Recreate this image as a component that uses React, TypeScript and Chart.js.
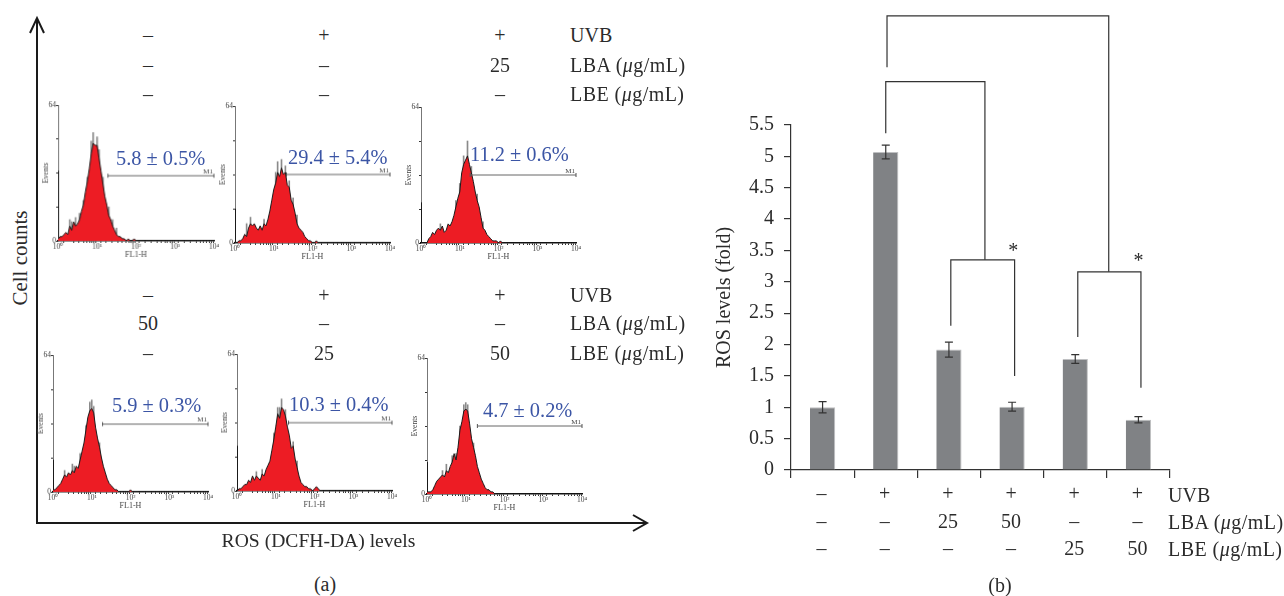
import React, { useEffect, useRef } from "react";
import { Chart, registerables } from "chart.js";

Chart.register(...registerables);

const SERIF = "'Liberation Serif', 'Times New Roman', serif";
const INK = "#2b2b2b";

// ---- panel (b) data ----
const barCategories = ["ctrl", "uvb", "lba25", "lba50", "lbe25", "lbe50"];
const rosLevels = [1.0, 5.07, 1.92, 1.01, 1.77, 0.8];
const rosErrors = [0.09, 0.11, 0.12, 0.07, 0.07, 0.05];
const rowUVB = ["–", "+", "+", "+", "+", "+"];
const rowLBA = ["–", "–", "25", "50", "–", "–"];
const rowLBE = ["–", "–", "–", "–", "25", "50"];
const rosTicks = ["0", "0.5", "1", "1.5", "2", "2.5", "3", "3.5", "4", "4.5", "5", "5.5"];
// bracket: [x from, x to, y of bar, y left foot, y right foot] in axis units
const brackets = [
  [1.02, 4.53, 7.24, 6.42, 3.16],
  [1.0, 2.57, 6.19, 5.37, 3.35],
  [2.03, 3.04, 3.35, 2.3, 1.5],
  [4.04, 5.04, 3.16, 2.12, 1.31],
];
const stars = [
  [3.02, 3.53],
  [5.0, 3.36],
];

// ---- panel (a) data ----
const channelDecades = [
  0, 0.01, 0.05, 0.1, 0.15, 0.2, 0.25, 0.3, 0.35, 0.4, 0.45, 0.5, 0.55, 0.6, 0.65, 0.7, 0.75, 0.8,
  0.85, 0.9, 0.95, 1.0, 1.05, 1.1, 1.15, 1.2, 1.25, 1.3, 1.35, 1.4, 1.45, 1.5, 1.55, 1.6, 1.65, 1.7,
  1.75, 1.8, 1.85, 1.9, 1.95, 2.0, 2.05, 2.1, 2.15, 2.2,
];
const histControl = [33, 1, 2, 2, 3, 4, 3, 7, 5, 9, 7, 8, 10, 14, 17, 23, 28, 34, 41, 46, 45, 45, 39, 33, 27, 21, 17, 12, 10, 7, 5, 3, 2, 2, 1, 1, 0, 1, 0, 0, 1, 0, 0, 0, 0, 0];
const histUVB = [16, 0, 0, 1, 1, 2, 4, 3, 7, 9, 8, 9, 7, 6, 8, 6, 9, 8, 11, 15, 20, 25, 28, 33, 31, 35, 32, 33, 27, 26, 20, 18, 14, 9, 7, 6, 5, 3, 2, 1, 1, 0, 0, 1, 0, 0];
const histLBA25 = [19, 0, 0, 0, 0, 2, 3, 5, 4, 6, 7, 6, 8, 5, 6, 9, 8, 10, 13, 17, 21, 24, 33, 37, 39, 41, 37, 33, 29, 24, 20, 17, 12, 7, 6, 4, 3, 2, 1, 1, 1, 0, 1, 0, 0, 0];
const histLBA50 = [15, 1, 1, 2, 3, 4, 6, 8, 7, 9, 8, 10, 9, 12, 11, 15, 19, 23, 29, 35, 38, 39, 37, 30, 25, 21, 16, 12, 9, 6, 4, 3, 2, 1, 1, 0, 0, 0, 0, 0, 0, 1, 0, 0, 0, 0];
const histLBE25 = [21, 0, 1, 1, 2, 3, 3, 5, 4, 7, 5, 7, 6, 5, 8, 7, 10, 12, 14, 19, 24, 30, 36, 34, 39, 38, 35, 30, 26, 20, 21, 15, 11, 7, 4, 3, 2, 2, 1, 1, 0, 1, 2, 1, 0, 0];
const histLBE50 = [15, 1, 1, 1, 2, 4, 6, 7, 8, 9, 8, 11, 10, 13, 15, 19, 16, 22, 30, 34, 39, 40, 39, 33, 26, 22, 18, 13, 10, 7, 5, 3, 2, 2, 1, 1, 0, 0, 0, 0, 0, 0, 0, 0, 0, 0];
// thin grey noise above the curve: [decade, count]
const spikesControl = [[0.3, 10], [0.35, 9], [0.45, 11], [0.55, 13], [0.65, 19], [0.75, 30], [0.85, 47], [0.9, 51], [1.0, 49], [1.05, 43], [1.15, 30], [1.3, 16], [1.4, 10], [1.5, 6]];
const spikesUVB = [[0.3, 9], [0.4, 12], [0.75, 11], [1.05, 33], [1.1, 38], [1.2, 39], [1.3, 36], [1.4, 29], [1.5, 21], [1.6, 13]];
const spikesLBA25 = [[0.5, 9], [0.9, 20], [1.0, 28], [1.1, 41], [1.2, 48], [1.3, 36], [1.45, 23], [1.6, 10]];
const spikesLBA50 = [[0.3, 10], [0.5, 13], [0.55, 12], [0.7, 18], [0.85, 31], [0.95, 42], [1.0, 43], [1.05, 40], [1.2, 23]];
const spikesLBE25 = [[0.5, 9], [0.65, 10], [0.95, 27], [1.05, 39], [1.1, 39], [1.15, 43], [1.25, 38], [1.45, 23], [1.55, 14]];
const spikesLBE50 = [[0.4, 11], [0.5, 14], [0.65, 18], [0.75, 19], [0.85, 32], [0.95, 42], [1.0, 43], [1.05, 42], [1.2, 24]];
const gateStarts = [1.28, 1.33, 1.27, 1.28, 1.33, 1.3];
const gateCounts = [30.7, 32, 32, 31.7, 31.9, 32];
const percentLabels = ["5.8 ± 0.5%", "29.4 ± 5.4%", "11.2 ± 0.6%", "5.9 ± 0.3%", "10.3 ± 0.4%", "4.7 ± 0.2%"];
const histograms = [histControl, histUVB, histLBA25, histLBA50, histLBE25, histLBE50];
const spikeSets = [spikesControl, spikesUVB, spikesLBA25, spikesLBA50, spikesLBE25, spikesLBE50];
const eventTicks = [0, 16, 32, 48, 64];
const decadeLabels = ["10⁰", "10¹", "10²", "10³", "10⁴"];
const topRows = [
  ["–", "+", "+", "UVB"],
  ["–", "–", "25", "LBA"],
  ["–", "–", "–", "LBE"],
];
const bottomRows = [
  ["–", "+", "+", "UVB"],
  ["50", "–", "–", "LBA"],
  ["–", "25", "50", "LBE"],
];

// ---- layout (pixels on the page) ----
const histAreas = [
  { l: 58.3, r: 214, t: 105, b: 240.7 },
  { l: 235, r: 390, t: 106, b: 242.7 },
  { l: 420.7, r: 576, t: 107, b: 243 },
  { l: 52.7, r: 207.7, t: 355, b: 491.7 },
  { l: 236.7, r: 392, t: 354, b: 490.7 },
  { l: 427, r: 582.3, t: 358, b: 494.3 },
];
const percentPos = [
  { x: 116, y: 158 },
  { x: 288, y: 157 },
  { x: 470, y: 154 },
  { x: 112, y: 405 },
  { x: 289, y: 404 },
  { x: 483, y: 410 },
];
const columnX = [148, 324, 500];
const topRowY = [35, 65, 94];
const bottomRowY = [295, 323, 353];

function Txt({ x, y, center, size = 20, color = INK, rotate, spacing, children }: any) {
  const tx = center ? "-50%" : "0";
  return (
    <span
      style={{
        position: "absolute",
        left: x,
        top: y,
        fontFamily: SERIF,
        fontSize: size,
        color,
        lineHeight: 1,
        letterSpacing: spacing || 0,
        whiteSpace: "nowrap",
        transform: rotate ? `translate(-50%,-50%) rotate(${rotate}deg)` : `translate(${tx},-50%)`,
      }}
    >
      {children}
    </span>
  );
}

function RowName({ x, y, name }: any) {
  if (name === "UVB") return <Txt x={x} y={y}>UVB</Txt>;
  return (
    <Txt x={x} y={y} spacing={0.45}>
      {name} (<i>μ</i>g/mL)
    </Txt>
  );
}

const gatePlugin = {
  id: "gate",
  afterDatasetsDraw(chart: any) {
    const pts = chart.getDatasetMeta(1).data;
    const ctx = chart.ctx;
    ctx.save();
    ctx.strokeStyle = "#555";
    ctx.lineWidth = 1;
    pts.forEach((p: any) => {
      ctx.beginPath();
      ctx.moveTo(p.x, p.y - 2);
      ctx.lineTo(p.x, p.y + 2);
      ctx.stroke();
    });
    const end = pts[pts.length - 1];
    ctx.fillStyle = "#444";
    ctx.font = `7px ${SERIF}`;
    ctx.textAlign = "right";
    ctx.textBaseline = "bottom";
    ctx.fillText("M1", end.x - 1, end.y - 0.5);
    ctx.restore();
  },
};

function Histogram({ index }: { index: number }) {
  const ref = useRef<HTMLCanvasElement>(null);
  const a = histAreas[index];
  const width = a.r - a.l + 20 + 14;
  const height = a.b - a.t + 8 + 22;
  useEffect(() => {
    const counts = histograms[index];
    const chart = new Chart(ref.current as any, {
      type: "line",
      data: {
        datasets: [
          {
            data: channelDecades.map((d, i) => ({ x: Math.pow(10, d), y: counts[i] })),
            borderColor: "#1a1a1a",
            borderWidth: 1,
            backgroundColor: "#ed1c24",
            fill: "origin",
            pointRadius: 0,
            tension: 0,
            order: 1,
          },
          {
            data: [
              { x: Math.pow(10, gateStarts[index]), y: gateCounts[index] },
              { x: 10000, y: gateCounts[index] },
            ],
            borderColor: "#666",
            borderWidth: 1,
            pointRadius: 0,
            fill: false,
            order: 0,
          },
          {
            type: "bar",
            data: spikeSets[index].map(([d, c]) => ({ x: Math.pow(10, d), y: c })),
            backgroundColor: "#8a8a8a",
            barThickness: 1,
            order: 2,
          },
        ],
      } as any,
      plugins: [gatePlugin],
      options: {
        animation: false,
        responsive: false,
        devicePixelRatio: 1,
        layout: { autoPadding: false, padding: { left: 2, right: 14, top: 8, bottom: 3 } },
        plugins: { legend: { display: false }, tooltip: { enabled: false } },
        scales: {
          x: {
            type: "logarithmic",
            min: 1,
            max: 10000,
            offset: false,
            afterFit(s: any) {
              s.height = 19;
            },
            border: { display: true, color: "#111", width: 1.5 },
            grid: { drawOnChartArea: false, tickLength: 2, color: "#333" },
            ticks: {
              autoSkip: false,
              maxRotation: 0,
              padding: 0,
              color: "#444",
              font: { family: SERIF, size: 7.5 },
              callback(v: any) {
                const log = Math.log10(Number(v));
                return Number.isInteger(log) ? decadeLabels[log] : "";
              },
            },
            title: { display: true, text: "FL1-H", color: "#444", padding: 0, font: { family: SERIF, size: 8 } },
          },
          y: {
            min: 0,
            max: 64,
            afterFit(s: any) {
              s.width = 18;
            },
            afterBuildTicks(s: any) {
              s.ticks = eventTicks.map((value) => ({ value }));
            },
            border: { display: true, color: "#777", width: 1 },
            grid: { drawOnChartArea: false, tickLength: 2, color: "#333" },
            ticks: {
              autoSkip: false,
              padding: 0,
              color: "#444",
              font: { family: SERIF, size: 7.5 },
              callback(v: any) {
                return v === 0 || v === 64 ? String(v) : "";
              },
            },
            title: { display: true, text: "Events", color: "#444", padding: { top: 2, bottom: 0 }, font: { family: SERIF, size: 7.5 } },
          },
        },
      } as any,
    });
    return () => chart.destroy();
  }, [index]);
  return (
    <canvas
      ref={ref}
      width={width}
      height={height}
      style={{ position: "absolute", left: a.l - 20, top: a.t - 8, width, height }}
    />
  );
}

const annotationPlugin = {
  id: "annotations",
  afterDatasetsDraw(chart: any) {
    const { ctx, scales } = chart;
    const { x, y } = scales;
    ctx.save();
    ctx.strokeStyle = "#333";
    ctx.lineWidth = 1.2;
    chart.getDatasetMeta(0).data.forEach((bar: any, i: number) => {
      const hi = y.getPixelForValue(rosLevels[i] + rosErrors[i]);
      const lo = y.getPixelForValue(rosLevels[i] - rosErrors[i]);
      ctx.beginPath();
      ctx.moveTo(bar.x, hi);
      ctx.lineTo(bar.x, lo);
      ctx.moveTo(bar.x - 4, hi);
      ctx.lineTo(bar.x + 4, hi);
      ctx.moveTo(bar.x - 4, lo);
      ctx.lineTo(bar.x + 4, lo);
      ctx.stroke();
    });
    brackets.forEach(([a, b, top, footA, footB]) => {
      ctx.beginPath();
      ctx.moveTo(x.getPixelForValue(a), y.getPixelForValue(footA));
      ctx.lineTo(x.getPixelForValue(a), y.getPixelForValue(top));
      ctx.lineTo(x.getPixelForValue(b), y.getPixelForValue(top));
      ctx.lineTo(x.getPixelForValue(b), y.getPixelForValue(footB));
      ctx.stroke();
    });
    ctx.fillStyle = INK;
    ctx.font = `20px ${SERIF}`;
    ctx.textAlign = "center";
    ctx.textBaseline = "middle";
    stars.forEach(([sx, sy]) => {
      ctx.fillText("*", x.getPixelForValue(sx), y.getPixelForValue(sy) + 3);
    });
    ctx.restore();
  },
};

function BarPanel() {
  const ref = useRef<HTMLCanvasElement>(null);
  useEffect(() => {
    const chart = new Chart(ref.current as any, {
      type: "bar",
      data: {
        labels: barCategories,
        datasets: [
          {
            data: rosLevels,
            backgroundColor: "#808285",
            borderColor: "#bfc0c2",
            borderWidth: { top: 1, right: 1, left: 0, bottom: 0 },
            barPercentage: 0.4,
            categoryPercentage: 1,
          },
        ],
      } as any,
      plugins: [annotationPlugin],
      options: {
        animation: false,
        responsive: false,
        devicePixelRatio: 1,
        layout: { autoPadding: false, padding: { left: 0, right: 114, top: 125, bottom: 0 } },
        plugins: { legend: { display: false }, tooltip: { enabled: false } },
        scales: {
          x: {
            afterFit(s: any) {
              s.height = 126;
            },
            border: { display: true, color: "#333", width: 1.2 },
            grid: { drawOnChartArea: false, offset: true, tickLength: 8, color: "#333", lineWidth: 1.2 },
            ticks: {
              autoSkip: false,
              maxRotation: 0,
              padding: 3,
              labelOffset: -1,
              color: INK,
              font: { family: SERIF, size: 20, lineHeight: 1.375 },
              callback(_v: any, i: number) {
                return [rowUVB[i], rowLBA[i], rowLBE[i]];
              },
            },
          },
          y: {
            min: 0,
            max: 5.5,
            afterFit(s: any) {
              s.width = 91;
            },
            border: { display: true, color: "#333", width: 1.2 },
            grid: { drawOnChartArea: false, tickLength: 7, color: "#333", lineWidth: 1.2 },
            ticks: {
              stepSize: 0.5,
              autoSkip: false,
              padding: 10,
              color: INK,
              font: { family: SERIF, size: 20 },
              callback(_v: any, i: number) {
                return rosTicks[i];
              },
            },
            title: {
              display: true,
              text: "ROS levels (fold)",
              color: INK,
              padding: { top: 13, bottom: 0 },
              font: { family: SERIF, size: 20 },
            },
          },
        },
      } as any,
    });
    return () => chart.destroy();
  }, []);
  return (
    <canvas
      ref={ref}
      width={584}
      height={596}
      style={{ position: "absolute", left: 700, top: 0, width: 584, height: 596 }}
    />
  );
}

export default function App() {
  return (
    <div style={{ position: "absolute", left: 0, top: 0, width: 1284, height: 596, background: "#fff", overflow: "hidden" }}>
      <svg width={1284} height={596} style={{ position: "absolute", left: 0, top: 0 }}>
        <g fill="none" stroke="#1a1a1a" strokeWidth={2}>
          <path d="M37 19 L37 523 L646 523" />
          <path d="M30 33 L37 18 L44 33" />
          <path d="M633 515 L647 523 L633 531" />
        </g>
      </svg>
      {histAreas.map((_a, i) => (
        <Histogram key={i} index={i} />
      ))}
      <BarPanel />
      {percentLabels.map((t, i) => (
        <Txt key={t} x={percentPos[i].x} y={percentPos[i].y} size={20.4} color="#3b55a5">
          {t}
        </Txt>
      ))}
      {topRows.map((row, r) =>
        row.map((cell, c) =>
          c < 3 ? (
            <Txt key={`t${r}${c}`} x={columnX[c]} y={topRowY[r]} center>
              {cell}
            </Txt>
          ) : (
            <RowName key={`t${r}${c}`} x={570} y={topRowY[r]} name={cell} />
          )
        )
      )}
      {bottomRows.map((row, r) =>
        row.map((cell, c) =>
          c < 3 ? (
            <Txt key={`b${r}${c}`} x={columnX[c]} y={bottomRowY[r]} center>
              {cell}
            </Txt>
          ) : (
            <RowName key={`b${r}${c}`} x={570} y={bottomRowY[r]} name={cell} />
          )
        )
      )}
      <RowName x={1168} y={495} name="UVB" />
      <RowName x={1168} y={522} name="LBA" />
      <RowName x={1168} y={549} name="LBE" />
      <Txt x={20} y={258} size={21} rotate={-90}>Cell counts</Txt>
      <Txt x={318.5} y={541} size={19.6} center>ROS (DCFH-DA) levels</Txt>
      <Txt x={325} y={584} center>(a)</Txt>
      <Txt x={1000} y={585} center>(b)</Txt>
    </div>
  );
}
